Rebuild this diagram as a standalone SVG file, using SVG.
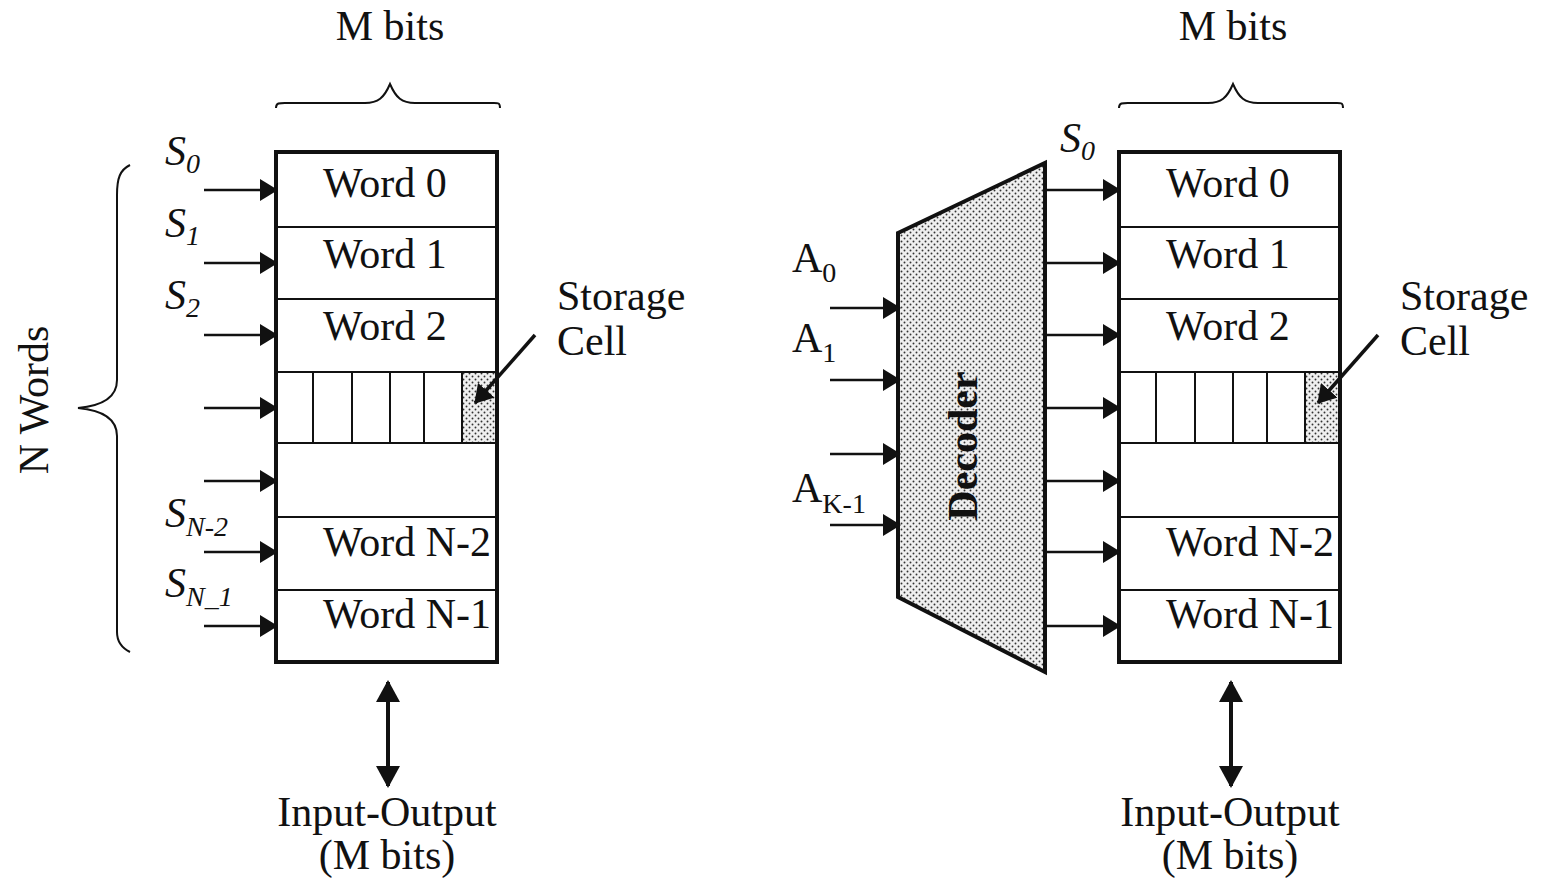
<svg xmlns="http://www.w3.org/2000/svg" width="1545" height="882" viewBox="0 0 1545 882">
<style>
.t{font-family:"Liberation Serif","Times New Roman",serif;font-size:42px;fill:#111}
.i{font-style:italic}
.sub{font-size:28px}
.b{font-weight:bold}
.box{fill:none;stroke:#111;stroke-width:4}
.dv{stroke:#111;stroke-width:2;fill:none}
.br{stroke:#111;stroke-width:2;fill:none}
.ar{stroke:#111;stroke-width:2.5;fill:none;marker-end:url(#ah)}
.sc{stroke:#111;stroke-width:3.5;fill:none;marker-end:url(#ah)}
.io{stroke:#111;stroke-width:4;fill:none;marker-start:url(#ah2);marker-end:url(#ah2)}
.dot{fill:url(#dots)}
</style>
<defs>
<marker id="ah" markerUnits="userSpaceOnUse" markerWidth="18" markerHeight="22" refX="17" refY="11" orient="auto"><path d="M0,0 L18,11 L0,22 Z" fill="#111"/></marker>
<marker id="ah2" markerUnits="userSpaceOnUse" markerWidth="24" markerHeight="24" refX="20" refY="12" orient="auto-start-reverse"><path d="M0,0 L22,12 L0,24 Z" fill="#111"/></marker>
<pattern id="dots" patternUnits="userSpaceOnUse" width="6" height="6"><rect width="6" height="6" fill="#efefef"/><circle cx="1.5" cy="1.5" r="0.95" fill="#333"/><circle cx="4.5" cy="4.5" r="0.95" fill="#333"/></pattern>
</defs>

<g id="mem-left">
<rect x="462" y="372" width="35" height="71" class="dot"/>
<line x1="276" y1="227" x2="497" y2="227" class="dv"/>
<line x1="276" y1="299" x2="497" y2="299" class="dv"/>
<line x1="276" y1="372" x2="497" y2="372" class="dv"/>
<line x1="276" y1="443" x2="497" y2="443" class="dv"/>
<line x1="276" y1="517" x2="497" y2="517" class="dv"/>
<line x1="276" y1="590" x2="497" y2="590" class="dv"/>
<line x1="313" y1="372" x2="313" y2="443" class="dv"/>
<line x1="352" y1="372" x2="352" y2="443" class="dv"/>
<line x1="390" y1="372" x2="390" y2="443" class="dv"/>
<line x1="424" y1="372" x2="424" y2="443" class="dv"/>
<line x1="462" y1="372" x2="462" y2="443" class="dv"/>
<text x="323" y="197" class="t">Word 0</text>
<text x="323" y="268" class="t">Word 1</text>
<text x="323" y="340" class="t">Word 2</text>
<text x="323" y="556" class="t">Word N-2</text>
<text x="323" y="628" class="t">Word N-1</text>
<rect x="276" y="152" width="221" height="510" class="box"/>
</g>

<g id="mem-right">
<rect x="1305" y="372" width="35" height="71" class="dot"/>
<line x1="1119" y1="227" x2="1340" y2="227" class="dv"/>
<line x1="1119" y1="299" x2="1340" y2="299" class="dv"/>
<line x1="1119" y1="372" x2="1340" y2="372" class="dv"/>
<line x1="1119" y1="443" x2="1340" y2="443" class="dv"/>
<line x1="1119" y1="517" x2="1340" y2="517" class="dv"/>
<line x1="1119" y1="590" x2="1340" y2="590" class="dv"/>
<line x1="1156" y1="372" x2="1156" y2="443" class="dv"/>
<line x1="1195" y1="372" x2="1195" y2="443" class="dv"/>
<line x1="1233" y1="372" x2="1233" y2="443" class="dv"/>
<line x1="1267" y1="372" x2="1267" y2="443" class="dv"/>
<line x1="1305" y1="372" x2="1305" y2="443" class="dv"/>
<text x="1166" y="197" class="t">Word 0</text>
<text x="1166" y="268" class="t">Word 1</text>
<text x="1166" y="340" class="t">Word 2</text>
<text x="1166" y="556" class="t">Word N-2</text>
<text x="1166" y="628" class="t">Word N-1</text>
<rect x="1119" y="152" width="221" height="510" class="box"/>
</g>

<g id="decoder">
<path d="M898,233 L1045,163 L1045,672 L898,597 Z" class="dot" stroke="#111" stroke-width="4"/>
<text class="t b" transform="translate(977,446) rotate(-90)" text-anchor="middle">Decoder</text>
</g>

<g id="labels-left">
<text x="390" y="40" class="t" text-anchor="middle">M bits</text>
<path d="M276,108 C276,102 280,103 290,103 L365,103 C378,103 384,98 390,84 C396,98 402,103 415,103 L490,103 C498,103 500,102 500,108" class="br"/>
<path d="M130,165 C120,170 117,178 117,195 L117,380 C117,398 100,406 78,408 C100,410 117,418 117,436 L117,632 C117,642 122,648 130,652" class="br"/>
<text class="t" transform="translate(48,400) rotate(-90)" text-anchor="middle">N Words</text>
<text x="165" y="165" class="t i">S<tspan class="sub" dy="8">0</tspan></text>
<text x="165" y="237" class="t i">S<tspan class="sub" dy="8">1</tspan></text>
<text x="165" y="309" class="t i">S<tspan class="sub" dy="8">2</tspan></text>
<text x="165" y="527" class="t i">S<tspan class="sub" dy="9">N-2</tspan></text>
<text x="165" y="597" class="t i">S<tspan class="sub" dy="9">N_1</tspan></text>
<text x="557" y="310" class="t">Storage</text>
<text x="557" y="355" class="t">Cell</text>
<text x="387" y="826" class="t" text-anchor="middle">Input-Output</text>
<text x="387" y="869" class="t" text-anchor="middle">(M bits)</text>
</g>

<g id="labels-right">
<text x="1233" y="40" class="t" text-anchor="middle">M bits</text>
<path d="M1119,108 C1119,102 1123,103 1133,103 L1208,103 C1221,103 1227,98 1233,84 C1239,98 1245,103 1258,103 L1333,103 C1341,103 1343,102 1343,108" class="br"/>
<text x="1060" y="152" class="t i">S<tspan class="sub" dy="8">0</tspan></text>
<text x="792" y="272" class="t">A<tspan class="sub" dy="10">0</tspan></text>
<text x="792" y="352" class="t">A<tspan class="sub" dy="10">1</tspan></text>
<text x="792" y="502" class="t">A<tspan class="sub" dy="11">K-1</tspan></text>
<text x="1400" y="310" class="t">Storage</text>
<text x="1400" y="355" class="t">Cell</text>
<text x="1230" y="826" class="t" text-anchor="middle">Input-Output</text>
<text x="1230" y="869" class="t" text-anchor="middle">(M bits)</text>
</g>

<g id="connectors">
<line x1="204" y1="190" x2="277" y2="190" class="ar"/>
<line x1="204" y1="263" x2="277" y2="263" class="ar"/>
<line x1="204" y1="335" x2="277" y2="335" class="ar"/>
<line x1="204" y1="408" x2="277" y2="408" class="ar"/>
<line x1="204" y1="481" x2="277" y2="481" class="ar"/>
<line x1="204" y1="552" x2="277" y2="552" class="ar"/>
<line x1="204" y1="626" x2="277" y2="626" class="ar"/>
<line x1="535" y1="335" x2="475" y2="403" class="sc"/>
<line x1="1047" y1="190" x2="1120" y2="190" class="ar"/>
<line x1="1047" y1="263" x2="1120" y2="263" class="ar"/>
<line x1="1047" y1="335" x2="1120" y2="335" class="ar"/>
<line x1="1047" y1="408" x2="1120" y2="408" class="ar"/>
<line x1="1047" y1="481" x2="1120" y2="481" class="ar"/>
<line x1="1047" y1="552" x2="1120" y2="552" class="ar"/>
<line x1="1047" y1="626" x2="1120" y2="626" class="ar"/>
<line x1="1378" y1="335" x2="1318" y2="403" class="sc"/>
<line x1="830" y1="308" x2="900" y2="308" class="ar"/>
<line x1="830" y1="380" x2="900" y2="380" class="ar"/>
<line x1="830" y1="454" x2="900" y2="454" class="ar"/>
<line x1="830" y1="525" x2="900" y2="525" class="ar"/>
<line x1="388" y1="682" x2="388" y2="786" class="io"/>
<line x1="1231" y1="682" x2="1231" y2="786" class="io"/>
</g>
</svg>
